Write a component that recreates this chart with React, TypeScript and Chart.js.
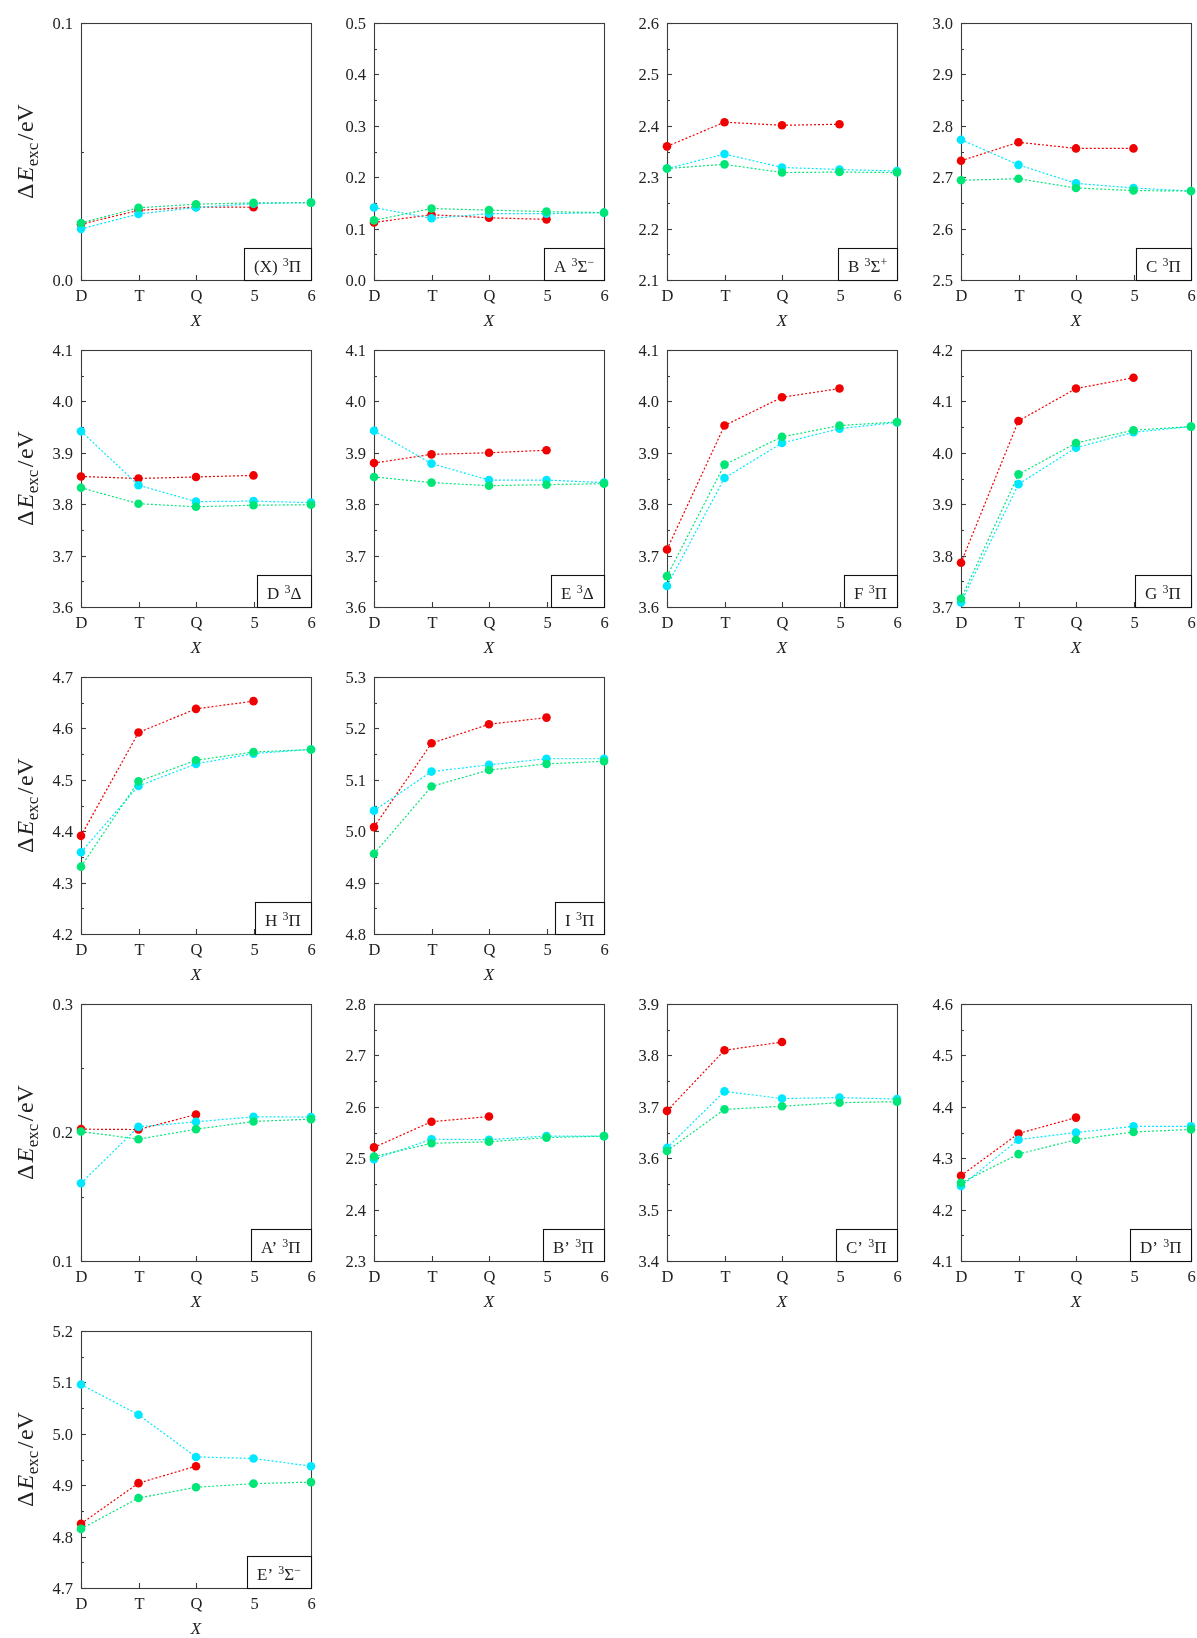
import React, { useEffect, useRef } from "react";
import { Chart, registerables } from "chart.js";

Chart.register(...registerables);

// ---------- data ----------
const categories = ["D", "T", "Q", "5", "6"];

const x3PiRed = [0.0217, 0.0271, 0.0284, 0.0283];
const x3PiCyan = [0.0199, 0.0257, 0.0282, 0.0297, 0.0301];
const x3PiGreen = [0.0222, 0.0281, 0.0295, 0.03, 0.0301];

const a3SigRed = [0.112, 0.127, 0.121, 0.118];
const a3SigCyan = [0.141, 0.12, 0.129, 0.129, 0.131];
const a3SigGreen = [0.116, 0.139, 0.136, 0.133, 0.131];

const b3SigRed = [2.36, 2.407, 2.401, 2.403];
const b3SigCyan = [2.317, 2.345, 2.319, 2.315, 2.312];
const b3SigGreen = [2.317, 2.325, 2.309, 2.31, 2.309];

const c3PiRed = [2.732, 2.768, 2.756, 2.756];
const c3PiCyan = [2.773, 2.724, 2.688, 2.679, 2.673];
const c3PiGreen = [2.694, 2.697, 2.679, 2.674, 2.673];

const d3DelRed = [3.854, 3.85, 3.853, 3.856];
const d3DelCyan = [3.942, 3.837, 3.805, 3.806, 3.803];
const d3DelGreen = [3.832, 3.801, 3.795, 3.798, 3.799];

const e3DelRed = [3.88, 3.897, 3.9, 3.905];
const e3DelCyan = [3.943, 3.879, 3.847, 3.847, 3.842];
const e3DelGreen = [3.853, 3.842, 3.836, 3.838, 3.84];

const f3PiRed = [3.712, 3.953, 4.008, 4.025];
const f3PiCyan = [3.641, 3.851, 3.919, 3.947, 3.959];
const f3PiGreen = [3.66, 3.877, 3.931, 3.953, 3.96];

const g3PiRed = [3.786, 4.062, 4.125, 4.146];
const g3PiCyan = [3.709, 3.939, 4.01, 4.04, 4.051];
const g3PiGreen = [3.716, 3.958, 4.019, 4.044, 4.051];

const h3PiRed = [4.391, 4.592, 4.638, 4.653];
const h3PiCyan = [4.359, 4.488, 4.531, 4.551, 4.559];
const h3PiGreen = [4.331, 4.497, 4.538, 4.554, 4.559];

const i3PiRed = [5.008, 5.171, 5.208, 5.221];
const i3PiCyan = [5.04, 5.116, 5.129, 5.141, 5.141];
const i3PiGreen = [4.956, 5.087, 5.119, 5.131, 5.136];

const ap3PiRed = [0.2026, 0.2023, 0.214];
const ap3PiCyan = [0.1605, 0.2044, 0.2083, 0.2122, 0.212];
const ap3PiGreen = [0.2008, 0.1948, 0.2026, 0.2086, 0.2104];

const bp3PiRed = [2.521, 2.571, 2.581];
const bp3PiCyan = [2.498, 2.537, 2.536, 2.543, 2.543];
const bp3PiGreen = [2.503, 2.529, 2.532, 2.54, 2.543];

const cp3PiRed = [3.692, 3.81, 3.826];
const cp3PiCyan = [3.62, 3.73, 3.716, 3.718, 3.715];
const cp3PiGreen = [3.614, 3.695, 3.701, 3.708, 3.71];

const dp3PiRed = [4.266, 4.348, 4.379];
const dp3PiCyan = [4.246, 4.336, 4.35, 4.362, 4.362];
const dp3PiGreen = [4.252, 4.308, 4.336, 4.351, 4.356];

const ep3SigRed = [4.825, 4.904, 4.937];
const ep3SigCyan = [5.096, 5.037, 4.955, 4.952, 4.937];
const ep3SigGreen = [4.815, 4.875, 4.896, 4.903, 4.906];

// state labels: [letter, symbol, charge superscript]
const stateLetters = ["(X)", "A", "B", "C", "D", "E", "F", "G", "H", "I", "A’", "B’", "C’", "D’", "E’"];
const stateSymbols = ["Π", "Σ", "Σ", "Π", "Δ", "Δ", "Π", "Π", "Π", "Π", "Π", "Π", "Π", "Π", "Σ"];
const stateCharges = ["", "−", "+", "", "", "", "", "", "", "", "", "", "", "", "−"];
const yMins = [0.0, 0.0, 2.1, 2.5, 3.6, 3.6, 3.6, 3.7, 4.2, 4.8, 0.1, 2.3, 3.4, 4.1, 4.7];
const yMaxs = [0.1, 0.5, 2.6, 3.0, 4.1, 4.1, 4.1, 4.2, 4.7, 5.3, 0.3, 2.8, 3.9, 4.6, 5.2];
const panelRows = [0, 0, 0, 0, 1, 1, 1, 1, 2, 2, 3, 3, 3, 3, 4];
const panelCols = [0, 1, 2, 3, 0, 1, 2, 3, 0, 1, 0, 1, 2, 3, 0];
const redSeries = [x3PiRed, a3SigRed, b3SigRed, c3PiRed, d3DelRed, e3DelRed, f3PiRed, g3PiRed, h3PiRed, i3PiRed, ap3PiRed, bp3PiRed, cp3PiRed, dp3PiRed, ep3SigRed];
const cyanSeries = [x3PiCyan, a3SigCyan, b3SigCyan, c3PiCyan, d3DelCyan, e3DelCyan, f3PiCyan, g3PiCyan, h3PiCyan, i3PiCyan, ap3PiCyan, bp3PiCyan, cp3PiCyan, dp3PiCyan, ep3SigCyan];
const greenSeries = [x3PiGreen, a3SigGreen, b3SigGreen, c3PiGreen, d3DelGreen, e3DelGreen, f3PiGreen, g3PiGreen, h3PiGreen, i3PiGreen, ap3PiGreen, bp3PiGreen, cp3PiGreen, dp3PiGreen, ep3SigGreen];

// ---------- layout / style ----------
const COL_LEFT = [81, 374, 667, 961];
const ROW_TOP = [23, 350, 677, 1004, 1331];
const PLOT_W = 230;
const PLOT_H = 257;
const PAD_LEFT = 81;
const PAD_TOP = 23;
const PAD_RIGHT = 6;
const PAD_BOTTOM = 56;

const RED = "#f00000";
const CYAN = "#00e8ff";
const GREEN = "#00e676";
const FRAME = "#3c3c3c";
const TEXT = "#222222";
const SERIF = '"Liberation Serif", "DejaVu Serif", serif';
const TICK_FONT = `16.5px ${SERIF}`;

type Seg = { t: string; font: string; dy: number; gap?: number };

function segsWidth(ctx: CanvasRenderingContext2D, segs: Seg[]) {
  let w = 0;
  for (const s of segs) {
    ctx.font = s.font;
    w += ctx.measureText(s.t).width + (s.gap || 0);
  }
  return w;
}

function drawSegs(ctx: CanvasRenderingContext2D, segs: Seg[], x: number, y: number) {
  let cx = x;
  for (const s of segs) {
    ctx.font = s.font;
    ctx.fillText(s.t, cx, y + s.dy);
    cx += ctx.measureText(s.t).width + (s.gap || 0);
  }
}

function isMajor(v: number) {
  return Math.abs(v * 10 - Math.round(v * 10)) < 1e-6;
}

function makePlugin(idx: number) {
  const col = panelCols[idx];
  return {
    id: "panelDeco" + idx,
    beforeDatasetsDraw(chart: any) {
      const ctx: CanvasRenderingContext2D = chart.ctx;
      const { left, right, top, bottom } = chart.chartArea;
      const xs = chart.scales.x;
      const ys = chart.scales.y;
      ctx.save();
      // frame
      ctx.strokeStyle = FRAME;
      ctx.lineWidth = 1.1;
      ctx.strokeRect(Math.round(left) + 0.5, Math.round(top) + 0.5, Math.round(right - left), Math.round(bottom - top));
      // y ticks
      ctx.fillStyle = TEXT;
      ctx.font = TICK_FONT;
      ctx.textAlign = "right";
      ctx.textBaseline = "alphabetic";
      for (const t of ys.ticks) {
        const py = Math.round(ys.getPixelForValue(t.value)) + 0.5;
        const major = isMajor(t.value);
        ctx.beginPath();
        ctx.moveTo(left, py);
        ctx.lineTo(left + (major ? 5 : 3), py);
        ctx.stroke();
        if (major) {
          ctx.fillText(t.value.toFixed(1), left - 8, py + 5.5);
        }
      }
      // x ticks
      ctx.textAlign = "center";
      for (let i = 0; i < categories.length; i++) {
        const px = Math.round(xs.getPixelForValue(i)) + 0.5;
        ctx.beginPath();
        ctx.moveTo(px, bottom);
        ctx.lineTo(px, bottom - 5);
        ctx.stroke();
        ctx.fillText(categories[i], px, bottom + 20.5);
      }
      // x title
      ctx.font = `italic 17px ${SERIF}`;
      ctx.textBaseline = "middle";
      ctx.fillText("X", (left + right) / 2, bottom + 42);
      // y title
      if (col === 0) {
        const segs: Seg[] = [
          { t: "Δ", font: `24px ${SERIF}`, dy: 0, gap: 2 },
          { t: "E", font: `italic 24px ${SERIF}`, dy: 0, gap: 0.5 },
          { t: "exc", font: `17px ${SERIF}`, dy: 4.5, gap: 2.5 },
          { t: "/", font: `24px ${SERIF}`, dy: 0, gap: 1.5 },
          { t: "eV", font: `24px ${SERIF}`, dy: 0 },
        ];
        ctx.save();
        ctx.translate(33, (top + bottom) / 2);
        ctx.rotate(-Math.PI / 2);
        ctx.textAlign = "left";
        ctx.textBaseline = "alphabetic";
        const w = segsWidth(ctx, segs);
        drawSegs(ctx, segs, -w / 2, 0);
        ctx.restore();
      }
      ctx.restore();
    },
    afterDatasetsDraw(chart: any) {
      const ctx: CanvasRenderingContext2D = chart.ctx;
      const { right, bottom } = chart.chartArea;
      const segs: Seg[] = [
        { t: stateLetters[idx] + " ", font: `17px ${SERIF}`, dy: 0, gap: 1 },
        { t: "3", font: `12px ${SERIF}`, dy: -6.5 },
        { t: stateSymbols[idx], font: `17px ${SERIF}`, dy: 0 },
      ];
      if (stateCharges[idx]) segs.push({ t: stateCharges[idx], font: `12px ${SERIF}`, dy: -6.5 });
      ctx.save();
      ctx.textAlign = "left";
      ctx.textBaseline = "alphabetic";
      const w = segsWidth(ctx, segs);
      const bw = Math.round(w + 20);
      const bh = 32;
      const bx = Math.round(right) - bw;
      const by = Math.round(bottom) - bh;
      ctx.fillStyle = "#ffffff";
      ctx.fillRect(bx, by, bw, bh);
      ctx.strokeStyle = "#111111";
      ctx.lineWidth = 1.1;
      ctx.strokeRect(bx + 0.5, by + 0.5, bw, bh);
      ctx.fillStyle = TEXT;
      drawSegs(ctx, segs, bx + 10, Math.round(bottom) - 8);
      ctx.restore();
    },
  };
}

function ds(data: number[], color: string, order: number) {
  return {
    data,
    order,
    borderColor: color,
    backgroundColor: color,
    pointBackgroundColor: color,
    pointBorderColor: color,
    pointBorderWidth: 0,
    pointRadius: 4.3,
    pointHoverRadius: 4.3,
    borderWidth: 1.2,
    borderDash: [2, 2],
    fill: false,
    tension: 0,
    clip: false as any,
  };
}

function Panel({ idx }: { idx: number }) {
  const ref = useRef<HTMLCanvasElement | null>(null);
  const row = panelRows[idx];
  const col = panelCols[idx];
  const cw = PAD_LEFT + PLOT_W + PAD_RIGHT;
  const ch = PAD_TOP + PLOT_H + PAD_BOTTOM;
  useEffect(() => {
    if (!ref.current) return;
    const chart = new Chart(ref.current, {
      type: "line",
      data: {
        labels: categories,
        datasets: [
          ds(greenSeries[idx], GREEN, 0),
          ds(cyanSeries[idx], CYAN, 1),
          ds(redSeries[idx], RED, 2),
        ] as any,
      },
      options: {
        animation: false,
        responsive: false,
        devicePixelRatio: 1,
        layout: { padding: { top: PAD_TOP, right: PAD_RIGHT, left: 0, bottom: 0 } },
        plugins: { legend: { display: false }, tooltip: { enabled: false } },
        events: [],
        scales: {
          x: {
            type: "category",
            offset: false,
            grid: { display: false, drawTicks: false },
            border: { display: false },
            ticks: { display: false },
            afterFit: (s: any) => {
              s.height = PAD_BOTTOM;
            },
          },
          y: {
            type: "linear",
            min: yMins[idx],
            max: yMaxs[idx],
            grid: { display: false, drawTicks: false },
            border: { display: false },
            ticks: { display: false, stepSize: 0.05 },
            afterFit: (s: any) => {
              s.width = PAD_LEFT;
            },
          },
        },
      } as any,
      plugins: [makePlugin(idx)],
    });
    return () => chart.destroy();
  }, [idx]);
  return (
    <canvas
      ref={ref}
      width={cw}
      height={ch}
      style={{
        position: "absolute",
        left: COL_LEFT[col] - PAD_LEFT,
        top: ROW_TOP[row] - PAD_TOP,
        width: cw,
        height: ch,
      }}
    />
  );
}

export default function App() {
  return (
    <div
      style={{
        position: "absolute",
        left: 0,
        top: 0,
        width: 1197,
        height: 1638,
        background: "#ffffff",
        overflow: "hidden",
      }}
    >
      {stateLetters.map((_, i) => (
        <Panel key={i} idx={i} />
      ))}
    </div>
  );
}
